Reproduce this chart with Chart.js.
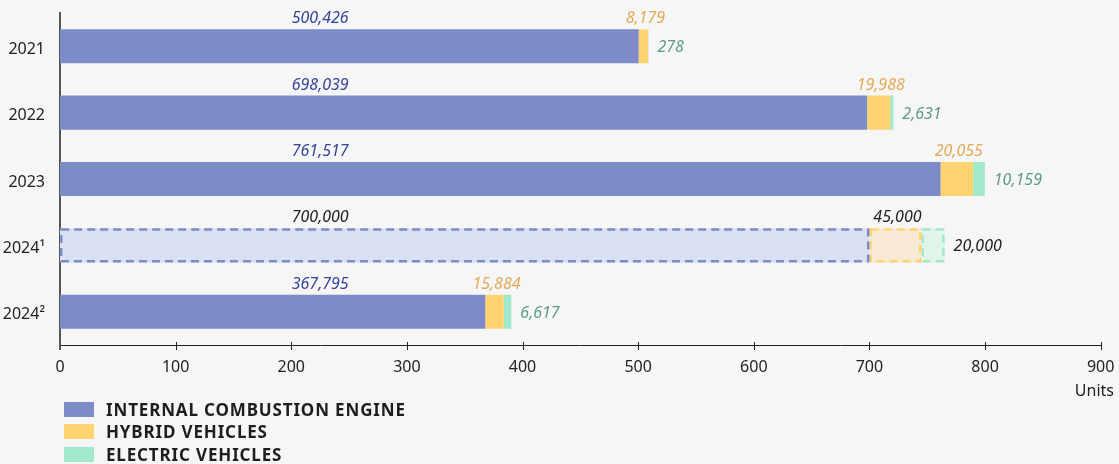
<!DOCTYPE html>
<html>
<head>
<meta charset="utf-8">
<script src="https://cdn.jsdelivr.net/npm/chart.js@4.4.1/dist/chart.umd.min.js"></script>
<style>
  html, body { margin: 0; padding: 0; background: #f5f6f5; }
  #wrap { position: relative; width: 1119px; height: 400px; }
  #legend { position: absolute; left: 64px; top: 398px; font-family: "Noto Sans", sans-serif; font-weight: bold; font-size: 17px; letter-spacing: 0.85px; color: #1e1e1e; }
  #legend .item { display: flex; align-items: center; height: 22.5px; white-space: nowrap; }
  #legend .box { width: 30px; height: 15px; margin-right: 12px; flex: none; }
</style>
</head>
<body>
<div id="wrap"><canvas id="c" width="1119" height="400"></canvas></div>
<div id="legend"></div>
<script>
// ---- data (thousands of units) ----
const categories = ["2021", "2022", "2023", "2024\u00B9", "2024\u00B2"];
const iceValues = [500.426, 698.039, 761.517, 700, 367.795];
const hybridValues = [8.179, 19.988, 28.1, 45, 15.884];
const electricValues = [0.278, 2.631, 10.159, 20, 6.617];
const iceLabels = ["500,426", "698,039", "761,517", "700,000", "367,795"];
const hybridLabels = ["8,179", "19,988", "20,055", "45,000", "15,884"];
const electricLabels = ["278", "2,631", "10,159", "20,000", "6,617"];
const seriesNames = ["INTERNAL COMBUSTION ENGINE", "HYBRID VEHICLES", "ELECTRIC VEHICLES"];
const xTickMax = 900;
const xTickStep = 100;
const forecastIndex = 3;

const solid = ["#7d8bc9", "#ffd470", "#a0e9cb"];
const pale = ["#d8e0f1", "#f8e9d5", "#e0f4e9"];
const labelColors = ["#34439a", "#e3a955", "#5f9c83"];
const FONT = '"Noto Sans", sans-serif';

function bg(i) { return ctx => ctx.dataIndex === forecastIndex ? pale[i] : solid[i]; }

const overlay = {
  id: 'overlay',
  afterDatasetsDraw(chart) {
    const ctx = chart.ctx;
    const xs = chart.scales.x;
    const area = chart.chartArea;
    const metas = [0, 1, 2].map(i => chart.getDatasetMeta(i));
    ctx.save();
    // dashed outlines for forecast bar
    [2, 1, 0].forEach(i => {
      const el = metas[i].data[forecastIndex];
      const x0 = Math.min(el.base, el.x), x1 = Math.max(el.base, el.x);
      const y0 = el.y - el.height / 2, y1 = el.y + el.height / 2;
      ctx.setLineDash([8, 5]);
      ctx.lineWidth = 2.5;
      ctx.strokeStyle = solid[i];
      ctx.strokeRect(x0 + 1.2, y0 + 1.2, x1 - x0 - 2.4, y1 - y0 - 2.4);
    });
    ctx.setLineDash([]);
    // value labels
    ctx.font = 'italic 16px ' + FONT;
    for (let k = 0; k < categories.length; k++) {
      const black = k === forecastIndex;
      const e0 = metas[0].data[k], e1 = metas[1].data[k], e2 = metas[2].data[k];
      const top = e0.y - e0.height / 2;
      ctx.textAlign = 'center';
      ctx.textBaseline = 'alphabetic';
      ctx.fillStyle = black ? '#222' : labelColors[0];
      ctx.fillText(iceLabels[k], xs.getPixelForValue(225), top - 6);
      ctx.fillStyle = black ? '#222' : labelColors[1];
      ctx.fillText(hybridLabels[k], (e1.base + e1.x) / 2 + 2, top - 6);
      ctx.textAlign = 'left';
      ctx.fillStyle = black ? '#222' : labelColors[2];
      ctx.fillText(electricLabels[k], e2.x + 9, e2.y + 6);
    }
    // x-axis tick marks crossing the axis
    ctx.strokeStyle = '#222';
    ctx.lineWidth = 1;
    for (let v = xTickStep; v <= xTickMax; v += xTickStep) {
      const px = Math.round(xs.getPixelForValue(v)) + 0.5;
      ctx.beginPath();
      ctx.moveTo(px, area.bottom - 3);
      ctx.lineTo(px, area.bottom + 5);
      ctx.stroke();
    }
    ctx.strokeStyle = '#555';
    ctx.lineWidth = 2;
    ctx.beginPath();
    ctx.moveTo(area.left, area.bottom);
    ctx.lineTo(area.left, area.bottom + 5);
    ctx.stroke();
    // unit title
    ctx.font = '16px ' + FONT;
    ctx.fillStyle = '#222';
    ctx.textAlign = 'right';
    ctx.textBaseline = 'alphabetic';
    ctx.fillText('Units', 1114, 396);
    ctx.restore();
  }
};

const chart = new Chart(document.getElementById('c'), {
  type: 'bar',
  data: {
    labels: categories,
    datasets: [
      { label: seriesNames[0], data: iceValues, backgroundColor: bg(0) },
      { label: seriesNames[1], data: hybridValues, backgroundColor: bg(1) },
      { label: seriesNames[2], data: electricValues, backgroundColor: bg(2) }
    ]
  },
  options: {
    indexAxis: 'y',
    responsive: false,
    animation: false,
    events: [],
    layout: { padding: { top: 13, right: 18.3, left: 0, bottom: 0 } },
    datasets: { bar: { categoryPercentage: 0.513, barPercentage: 1, borderWidth: 0 } },
    plugins: { legend: { display: false }, tooltip: { enabled: false } },
    scales: {
      x: {
        stacked: true,
        min: 0, max: xTickMax,
        grid: { display: false, drawTicks: false },
        border: { display: true, color: '#222', width: 1 },
        ticks: { stepSize: xTickStep, padding: 13, color: '#222', font: { family: FONT, size: 16 } },
        afterFit(s) { s.height = 55; s.paddingLeft = 0; s.paddingRight = 0; }
      },
      y: {
        stacked: true,
        grid: { display: false, drawTicks: false },
        border: { display: true, color: '#555', width: 2 },
        ticks: { padding: 15, labelOffset: 3, color: '#222', font: { family: FONT, size: 16 } },
        afterFit(s) { s.width = 60; s.paddingTop = 0; s.paddingBottom = 0; }
      }
    }
  },
  plugins: [overlay]
});

// HTML legend built from the chart's datasets
const leg = document.getElementById('legend');
chart.data.datasets.forEach((ds, i) => {
  const row = document.createElement('div');
  row.className = 'item';
  const b = document.createElement('span');
  b.className = 'box';
  b.style.background = solid[i];
  const t = document.createElement('span');
  t.textContent = ds.label;
  row.appendChild(b); row.appendChild(t);
  leg.appendChild(row);
});
</script>
</body>
</html>
